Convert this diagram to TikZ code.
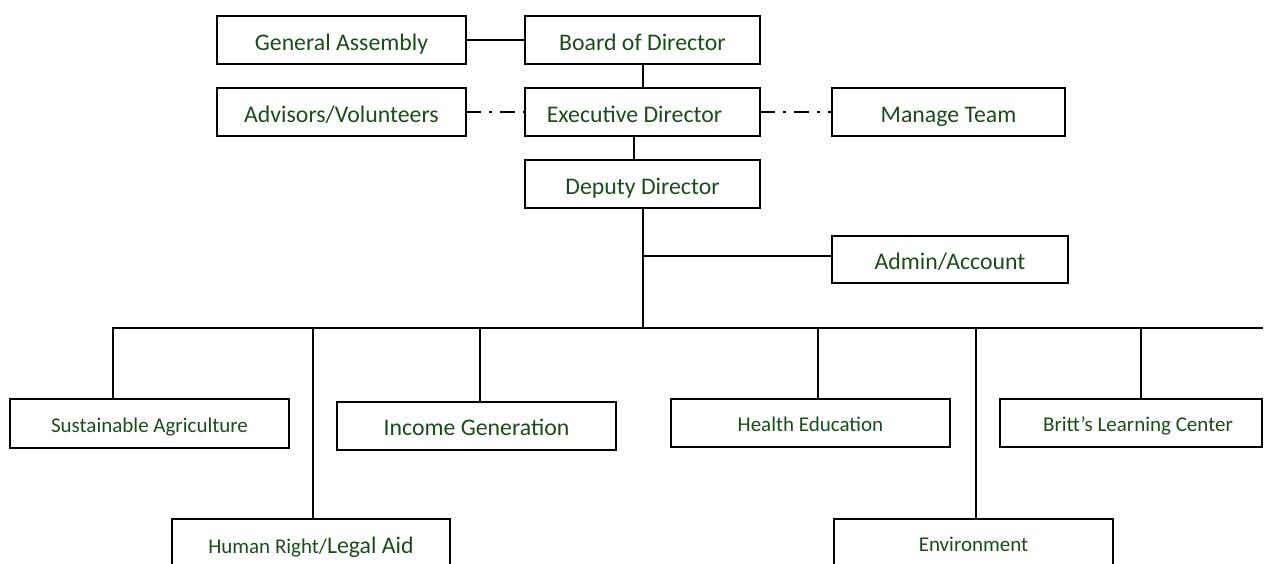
\documentclass[tikz,border=0pt]{standalone}
\usepackage{fontspec}
\setmainfont{Carlito}
\definecolor{txtgreen}{HTML}{1A4D1A}
\newcommand{\bigtxt}{\fontsize{23.8}{28}\selectfont}
\newcommand{\smalltxt}{\fontsize{21}{25}\selectfont}
\begin{document}
\begin{tikzpicture}[x=1pt,y=-1pt,
  box/.style={draw, line width=2pt, rectangle, inner sep=0pt, outer sep=0pt,
    text=txtgreen, font=\bigtxt, text height=20.5pt, text depth=0pt},
  sbox/.style={box, font=\smalltxt, text height=17pt, text depth=0pt},
  conn/.style={line width=2pt},
  dashdot/.style={line width=2pt, dash pattern=on 15pt off 8pt on 3pt off 8pt}]
\useasboundingbox (0,0) rectangle (1264,563);
% top
\node[box, minimum width=249pt, minimum height=48pt] (ga) at (341.5,40) {General Assembly};
\node[box, minimum width=235pt, minimum height=48pt] (board) at (642.5,40) {Board of Director};
\node[box, minimum width=249pt, minimum height=48pt] (adv) at (341.5,112) {Advisors/Volunteers};
\node[box, minimum width=235pt, minimum height=48pt] (exec) at (642.5,112) {Executive Director\hspace*{16pt}\mbox{}};
\node[box, minimum width=233pt, minimum height=48pt] (manage) at (948.5,112) {Manage Team};
\node[box, minimum width=235pt, minimum height=48pt] (deputy) at (642.5,184) {Deputy Director};
\node[box, minimum width=236pt, minimum height=47pt] (admin) at (950,259.5) {Admin/Account};
% bottom
\node[sbox, minimum width=279pt, minimum height=49pt] (sa) at (149.5,423.5) {Sustainable Agriculture};
\node[box, minimum width=279pt, minimum height=48pt, text height=18pt] (inc) at (476.5,426) {Income Generation};
\node[sbox, minimum width=279pt, minimum height=48pt] (health) at (810.5,423) {Health Education};
\node[sbox, minimum width=262pt, minimum height=48pt] (britt) at (1131,423) {\hspace{14pt}Britt’s Learning Center};
\node[sbox, minimum width=278pt, minimum height=52pt] (human) at (311,545) {Human Right/{\bigtxt Legal Aid}};
\node[sbox, minimum width=279pt, minimum height=52pt, text height=12pt] (env) at (973.5,545) {Environment};
% connectors
\draw[conn] (ga.east) -- (board.west);
\draw[dashdot] (adv.east) -- (exec.west);
\draw[dashdot] (exec.east) -- (manage.west);
\draw[conn] (board.south) -- (exec.north);
\draw[conn] ([xshift=-8.5pt]exec.south) -- ([xshift=-8.5pt]deputy.north);
\coordinate (ajoin) at (642.5,256);
\coordinate (busL) at (113,328);
\coordinate (busR) at (1263,328);
\coordinate (bhuman) at (313,328);
\coordinate (binc) at (480,328);
\coordinate (bdep) at (642.5,328);
\coordinate (bhealth) at (818,328);
\coordinate (benv) at (976,328);
\coordinate (bbritt) at (1141,328);
\draw[conn] (deputy.south) -- (bdep);
\draw[conn] (ajoin) -- (ajoin -| admin.west);
\draw[conn] (busL |- sa.north) -- (busL) -- (busR);
\draw[conn] (bhuman) -- (bhuman |- human.north);
\draw[conn] (binc) -- (binc |- inc.north);
\draw[conn] (bhealth) -- (bhealth |- health.north);
\draw[conn] (benv) -- (benv |- env.north);
\draw[conn] (bbritt) -- (bbritt |- britt.north);
\end{tikzpicture}
\end{document}
